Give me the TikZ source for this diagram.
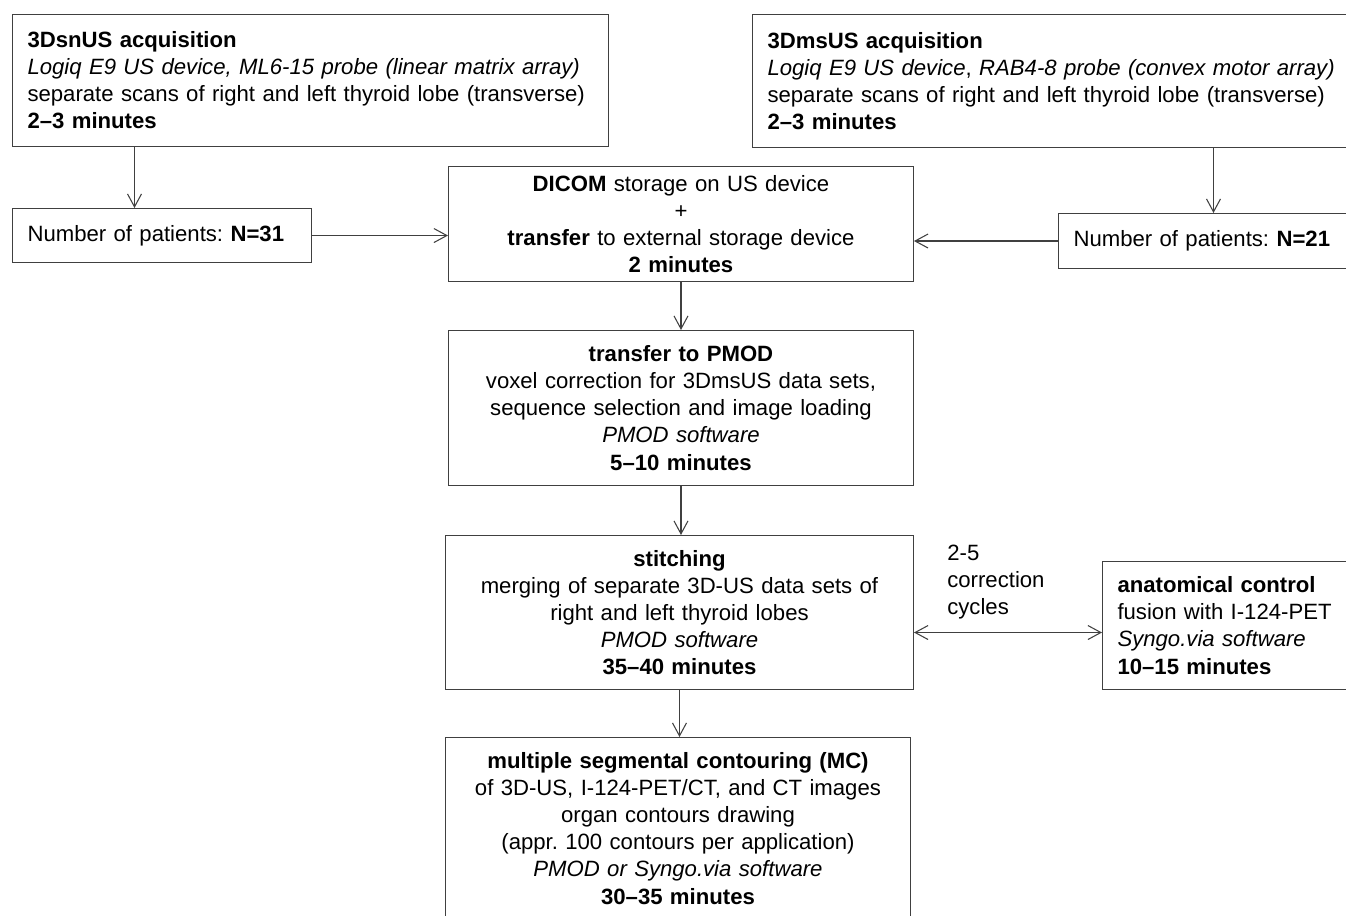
\documentclass[tikz,border=0pt]{standalone}
\usepackage{fontspec}
\setmainfont{Liberation Sans}
\frenchspacing
\usetikzlibrary{arrows.meta, positioning, calc}
\definecolor{boxline}{HTML}{404040}
\definecolor{txt}{HTML}{000000}

\begin{document}
\begin{tikzpicture}[x=0.02cm, y=-0.02cm,
  >={Straight Barb[length=2.6mm, width=2.8mm]},
  box/.style={draw=boxline, line width=0.6pt, text=txt, inner xsep=3mm, inner ysep=0pt,
    font=\fontsize{12.6}{15.4}\selectfont, anchor=north west},
  lbox/.style={box, align=left},
  cbox/.style={box, align=center},
  arr/.style={boxline, line width=0.6pt, ->}]

% Canvas
\useasboundingbox (0,0) rectangle (1346,916);
\clip (0,0) rectangle (1346,916);
\fill[white] (0,0) rectangle (1346,916);

% --- Acquisition (top) ---
\node[lbox, text width=113.2mm, minimum height=26.4mm] (acqsn) at (12,14)
  {\textbf{3DsnUS acquisition}\\
   \textit{Logiq E9 US device, ML6-15 probe (linear matrix array)}\\
   separate scans of right and left thyroid lobe (transverse)\\
   \textbf{2--3 minutes}};
\node[lbox, text width=116mm, minimum height=26.6mm] (acqms) at (752,14)
  {\textbf{3DmsUS acquisition}\\
   \textit{Logiq E9 US device}, \textit{RAB4-8 probe (convex motor array)}\\
   separate scans of right and left thyroid lobe (transverse)\\
   \textbf{2--3 minutes}};

% --- Patients ---
\node[lbox, text width=53.8mm, minimum height=10.8mm] (nsn) at (12,208)
  {Number of patients: \textbf{N=31}};
\node[lbox, text width=56mm, minimum height=11mm] (nms) at (1058,213)
  {Number of patients: \textbf{N=21}};

% --- Main chain ---
\node[cbox, text width=87mm, minimum height=23mm] (dicom) at (448,166)
  {\textbf{DICOM} storage on US device\\ +\\
   \textbf{transfer} to external storage device\\
   \textbf{2 minutes}};
\node[cbox, text width=87mm, minimum height=31mm] (pmod) at (448,330)
  {\textbf{transfer to PMOD}\\
   voxel correction for 3DmsUS data sets,\\
   sequence selection and image loading\\
   \textit{PMOD software}\\
   \textbf{5--10 minutes}};
\node[cbox, text width=87.6mm, minimum height=30.8mm] (stitch) at (445,535)
  {\textbf{stitching}\\
   merging of separate 3D-US data sets of\\
   right and left thyroid lobes\\
   \textit{PMOD software}\\
   \textbf{35--40 minutes}};
\node[cbox, text width=87mm, minimum height=36.4mm] (mc) at (445,737)
  {\textbf{multiple segmental contouring (MC)}\\
   of 3D-US, I-124-PET/CT, and CT images\\
   organ contours drawing\\
   (appr. 100 contours per application)\\
   \textit{PMOD or Syngo.via software}\\
   \textbf{30--35 minutes}};

% --- Control loop ---
\node[lbox, text width=46mm, minimum height=25.6mm] (anat) at (1102,561)
  {\textbf{anatomical control}\\
   fusion with I-124-PET\\
   \textit{Syngo.via software}\\
   \textbf{10--15 minutes}};
\node[text=txt, align=left, anchor=west, inner sep=0pt,
  font=\fontsize{12.6}{15.4}\selectfont] (cycles) at (947,582)
  {2-5\\ correction\\ cycles};

% --- Connectors ---
\draw[arr] ([xshift=-5.5mm]nsn.north |- acqsn.south) -- ([xshift=-5.5mm]nsn.north);
\draw[arr] (nms.north |- acqms.south) -- (nms.north);
\draw[arr] (nsn.east) -- (nsn.east -| dicom.west);
\draw[arr] (nms.west) -- (nms.west -| dicom.east);
\draw[arr] (dicom.south) -- (pmod.north);
\draw[arr] (pmod.south) -- (pmod.south |- stitch.north);
\draw[arr] (stitch.south) -- (stitch.south |- mc.north);
\draw[arr, <->] ([yshift=-1.4mm]anat.west -| stitch.east) -- ([yshift=-1.4mm]anat.west);

\end{tikzpicture}
\end{document}
